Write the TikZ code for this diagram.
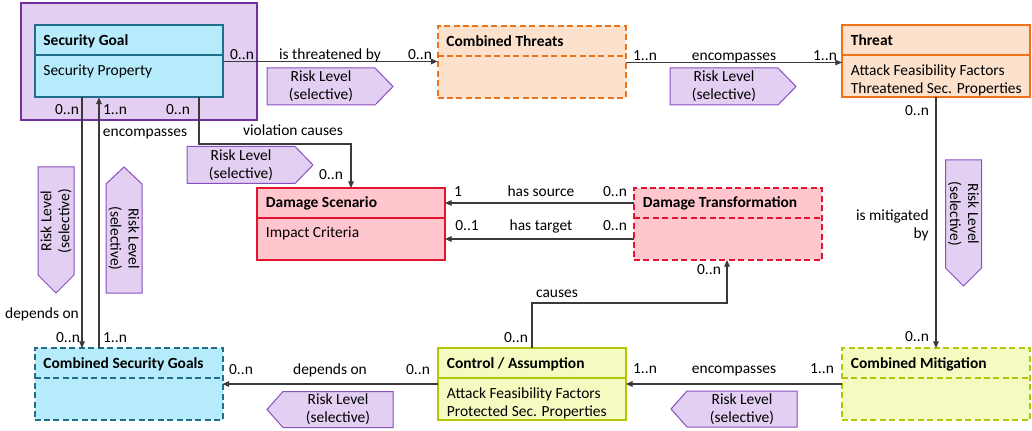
\documentclass[tikz,border=0pt]{standalone}
\usepackage{fontspec}
\setmainfont{Carlito}
\usetikzlibrary{arrows.meta}

\definecolor{goalfill}{HTML}{B6EBFB}
\definecolor{goaldraw}{HTML}{1F6E8C}
\definecolor{threatfill}{HTML}{FCE1CD}
\definecolor{threatdraw}{HTML}{EE7219}
\definecolor{damagefill}{HTML}{FFC6CD}
\definecolor{damagedraw}{HTML}{E2142E}
\definecolor{ctrlfill}{HTML}{F5FBC0}
\definecolor{ctrldraw}{HTML}{B4C60A}
\definecolor{groupfill}{HTML}{E2CFF1}
\definecolor{groupdraw}{HTML}{7030A0}
\definecolor{riskfill}{HTML}{E2CFF1}
\definecolor{riskdraw}{HTML}{8A4FC0}
\definecolor{linecol}{HTML}{3A3A3A}

% class box: name, style, x, y (top left), header, first body line, second body line
\newcommand{\classbox}[7]{%
  \node[cls,#2] (#1) at (#3,#4) {};
  \draw[#2,line width=1.5pt] ([yshift=-22.5pt]#1.north west) -- ([yshift=-22.5pt]#1.north east);
  \node[hdr] (#1-head) at ([xshift=6.5pt,yshift=-15pt]#1.north west) {#5};
  \if\relax\detokenize{#6}\relax\else
    \node[bodyline] (#1-one) at ([xshift=6.5pt,yshift=-37.5pt]#1.north west) {#6};
  \fi
  \if\relax\detokenize{#7}\relax\else
    \node[bodyline] (#1-two) at ([xshift=6.5pt,yshift=-51pt]#1.north west) {#7};
  \fi}

% risk level tags: name, position
\newcommand{\tagright}[3]{%
  \draw[risk] (#2,#3) -- ++(108,0) -- ++(18,18.5) -- ++(-18,18.5) -- ++(-108,0) -- cycle;
  \node[risktxt] (#1) at ({#2+54},{#3+18.5}) {Risk Level\\(selective)};}
\newcommand{\tagleft}[3]{%
  \draw[risk] (#2,{#3+18}) -- ++(16,-18) -- ++(110,0) -- ++(0,36) -- ++(-110,0) -- cycle;
  \node[risktxt] (#1) at ({#2+71},{#3+18}) {Risk Level\\(selective)};}
\newcommand{\tagdown}[4]{%
  \draw[risk] (#2,#3) -- ++(36,0) -- ++(0,108) -- ++(-18,18) -- ++(-18,-18) -- cycle;
  \node[risktxt,rotate=#4] (#1) at ({#2+18},{#3+54}) {Risk Level\\(selective)};}
\newcommand{\tagup}[3]{%
  \draw[risk] ({#2+18},#3) -- ++(18,17) -- ++(0,109) -- ++(-36,0) -- ++(0,-109) -- cycle;
  \node[risktxt,rotate=-90] (#1) at ({#2+18},{#3+71.5}) {Risk Level\\(selective)};}

\begin{document}
\begin{tikzpicture}[x=0.75pt,y=-0.75pt,
  every node/.style={font=\fontsize{11.6}{13.5}\selectfont},
  cls/.style={line width=1.5pt,minimum width=141pt,minimum height=54pt,
    anchor=north west,inner sep=0pt,outer sep=0pt},
  goal/.style={draw=goaldraw,fill=goalfill},
  goalgroup/.style={draw=goaldraw,fill=goalfill,dash pattern=on 4.5pt off 2.6pt},
  threatgroup/.style={draw=threatdraw,fill=threatfill,dash pattern=on 4.5pt off 2.6pt},
  threat/.style={draw=threatdraw,fill=threatfill},
  damage/.style={draw=damagedraw,fill=damagefill},
  damagegroup/.style={draw=damagedraw,fill=damagefill,dash pattern=on 4.5pt off 2.6pt},
  ctrl/.style={draw=ctrldraw,fill=ctrlfill},
  ctrlgroup/.style={draw=ctrldraw,fill=ctrlfill,dash pattern=on 4.5pt off 2.6pt},
  hdr/.style={anchor=base west,inner sep=0pt,font=\fontsize{11.6}{13.5}\selectfont\bfseries},
  bodyline/.style={anchor=base west,inner sep=0pt},
  lbl/.style={inner sep=0pt,text height=8pt,text depth=2.5pt},
  risk/.style={draw=riskdraw,fill=riskfill,line width=0.75pt,line join=miter},
  risktxt/.style={align=center,inner sep=0pt},
  conn/.style={draw=linecol,line width=0.8pt,-{Triangle[length=5pt,width=4.2pt]}}
]
\useasboundingbox (0,0) rectangle (1032,431);

% frame around the security goal
\draw[draw=groupdraw,fill=groupfill,line width=1.5pt] (21,3.5) rectangle (257,120);

% classes
\classbox{sg}{goal}{34.5}{25.5}{Security Goal}{Security Property}{}
\classbox{ct}{threatgroup}{437.5}{26.5}{Combined Threats}{}{}
\classbox{thr}{threat}{842}{25.5}{Threat}{Attack Feasibility Factors}{Threatened Sec. Properties}
\classbox{ds}{damage}{257}{188}{Damage Scenario}{Impact Criteria}{}
\classbox{dt}{damagegroup}{634}{188}{Damage Transformation}{}{}
\classbox{csg}{goalgroup}{34.5}{348}{Combined Security Goals}{}{}
\classbox{ca}{ctrl}{438}{348}{Control / Assumption}{Attack Feasibility Factors}{Protected Sec. Properties}
\classbox{cm}{ctrlgroup}{842}{348}{Combined Mitigation}{}{}

% risk level tags
\tagright{risk-threat}{267}{68}
\tagright{risk-viol}{187}{146.5}
\tagright{risk-enc}{670}{68}
\tagleft{risk-dep}{267}{391.5}
\tagleft{risk-mit}{671}{391}
\tagdown{risk-goaldep}{38}{167}{90}
\tagup{risk-goalenc}{106}{167}
\tagdown{risk-mitig}{945.5}{160}{-90}

% associations
\draw[conn] (sg.east) -- (sg.east -| ct.west);
\draw[conn] (ct.east) -- (ct.east -| thr.west);
\draw[conn] (sg.south -| 199,0) -- (199,144) -| (ds.north -| 351,0);
\draw[conn] (sg.south -| 82,0) -- (csg.north -| 82,0);
\draw[conn] (csg.north -| 99,0) -- (sg.south -| 99,0);
\draw[conn] (dt.west |- 0,203) -- (ds.east |- 0,203);
\draw[conn] (dt.west |- 0,239) -- (ds.east |- 0,239);
\draw[conn] (ca.north -| 532,0) -- (532,303) -| (dt.south -| 727,0);
\draw[conn] (thr.south) -- (cm.north);
\draw[conn] (ca.west) -- (ca.west -| csg.east);
\draw[conn] (cm.west) -- (cm.west -| ca.east);

% association labels and multiplicities
\node[lbl] (l-thr-a) at (242,56) {0..n};
\node[lbl] (l-thr) at (330,56) {is threatened by};
\node[lbl] (l-thr-b) at (420,56) {0..n};
\node[lbl] (l-enc-a) at (645,57) {1..n};
\node[lbl] (l-enc) at (734,57) {encompasses};
\node[lbl] (l-enc-b) at (825,57) {1..n};
\node[lbl] (l-gdep-a) at (67,111) {0..n};
\node[lbl] (l-genc-b) at (115,111) {1..n};
\node[lbl] (l-genc) at (145,133) {encompasses};
\node[lbl] (l-viol-a) at (178,111) {0..n};
\node[lbl] (l-viol) at (293,132) {violation causes};
\node[lbl] (l-viol-b) at (331,176) {0..n};
\node[lbl] (l-gdep) at (42,315) {depends on};
\node[lbl] (l-gdep-b) at (68,339) {0..n};
\node[lbl] (l-genc-a) at (115,339) {1..n};
\node[lbl] (l-src-b) at (458,193) {1};
\node[lbl] (l-src) at (541,193) {has source};
\node[lbl] (l-src-a) at (615,193) {0..n};
\node[lbl] (l-tgt-b) at (467,227) {0..1};
\node[lbl] (l-tgt) at (541,227) {has target};
\node[lbl] (l-tgt-a) at (615,227) {0..n};
\node[lbl] (l-cause-b) at (709,271) {0..n};
\node[lbl] (l-cause) at (557,294) {causes};
\node[lbl] (l-cause-a) at (516,339) {0..n};
\node[lbl] (l-menc-b) at (645,370) {1..n};
\node[lbl] (l-menc) at (734,370) {encompasses};
\node[lbl] (l-menc-a) at (822,370) {1..n};
\node[lbl] (l-cdep-b) at (241,371) {0..n};
\node[lbl] (l-cdep) at (330,371) {depends on};
\node[lbl] (l-cdep-a) at (418,371) {0..n};
\node[lbl] (l-mit-a) at (917,112) {0..n};
\node[anchor=east,align=right,inner sep=0pt] (l-mit) at (929,225) {is mitigated\\by};
\node[lbl] (l-mit-b) at (917,338) {0..n};
\end{tikzpicture}
\end{document}
